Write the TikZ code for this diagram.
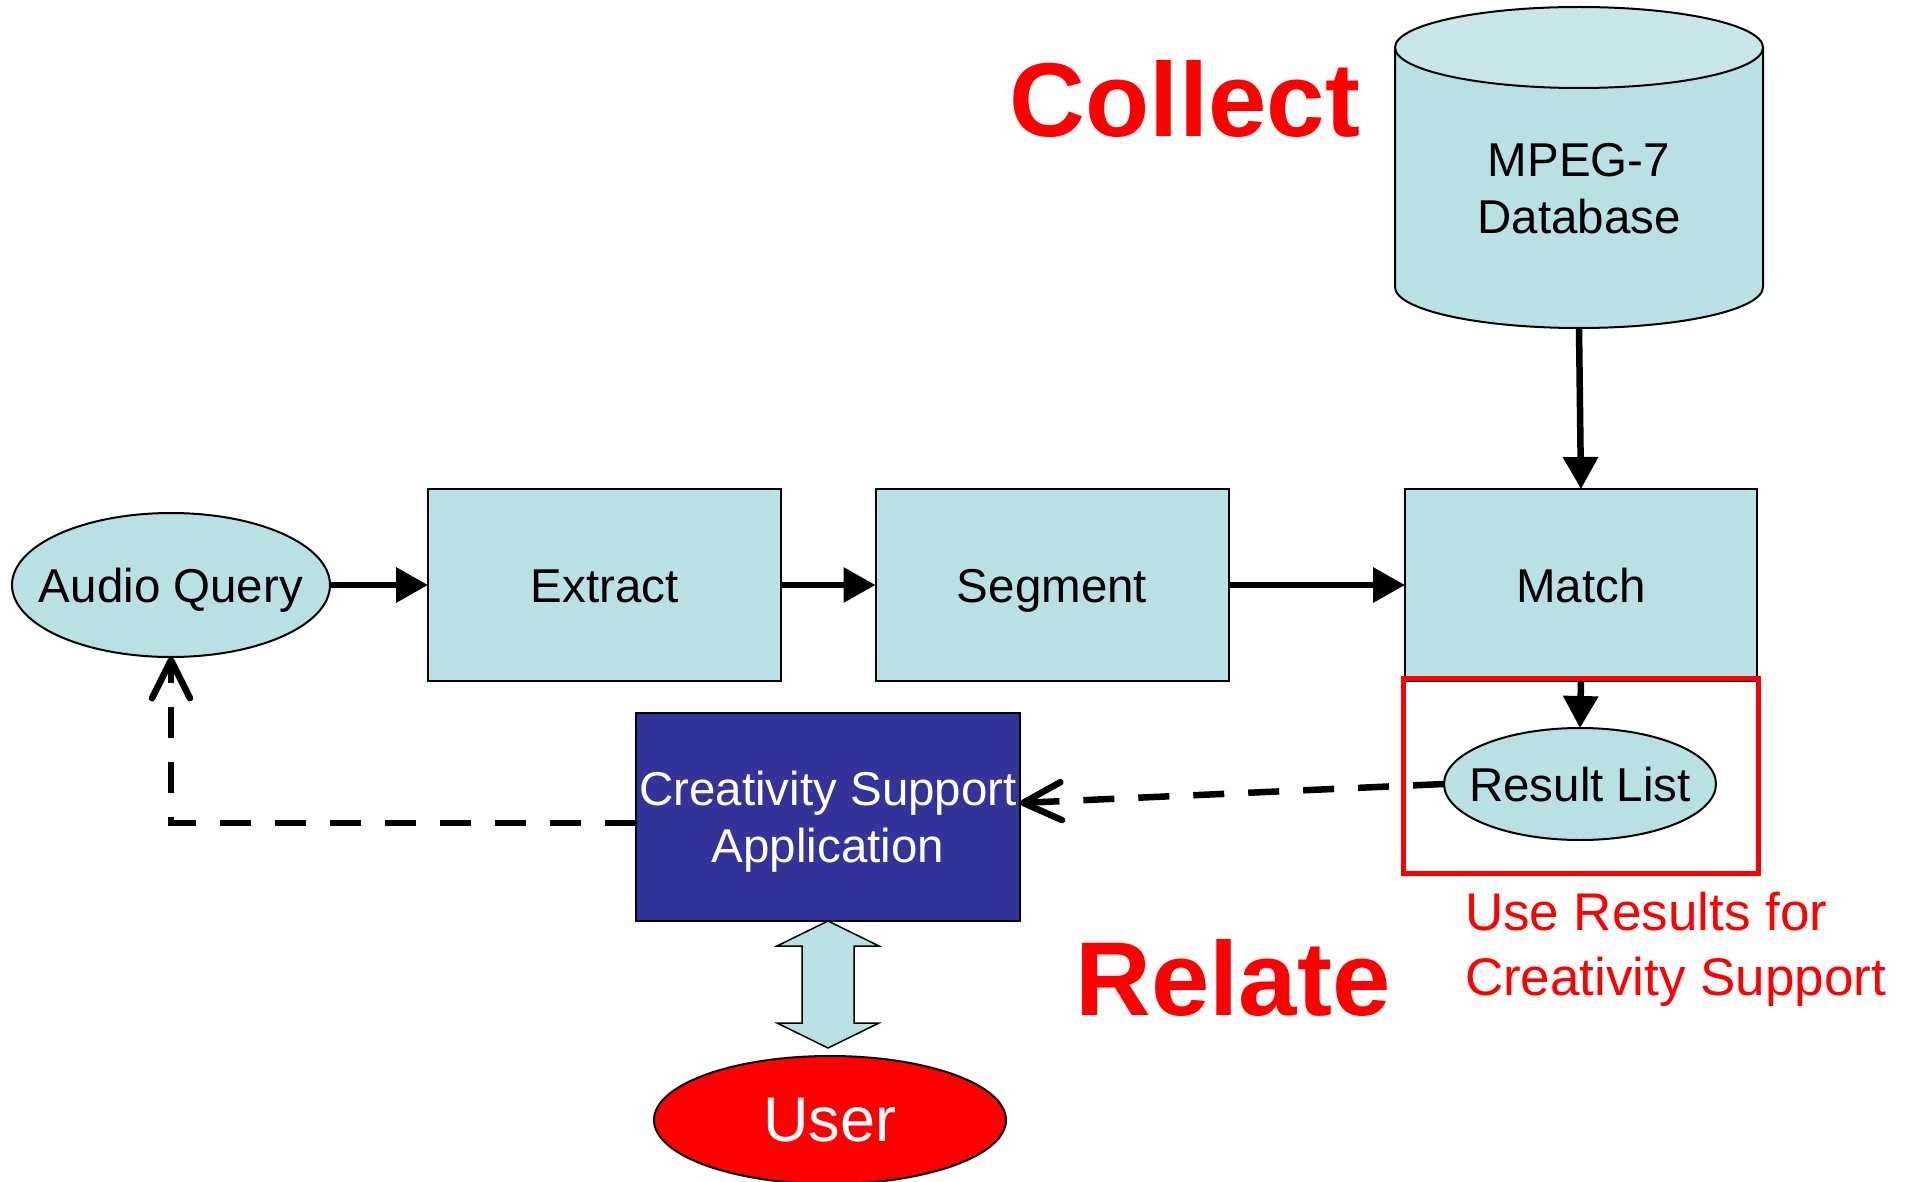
\documentclass[tikz,border=0pt]{standalone}
\usepackage{fontspec}
\setmainfont{Liberation Sans}
\usetikzlibrary{arrows.meta,shapes.geometric,calc}
\definecolor{paleblue}{RGB}{185,224,227}
\definecolor{paletop}{RGB}{200,230,232}
\definecolor{appblue}{RGB}{51,51,153}
\definecolor{alertred}{RGB}{255,0,0}
\begin{document}
\begin{tikzpicture}[x=1pt,y=1pt,
  every node/.style={inner sep=0pt, outer sep=0pt},
  lbl/.style={font=\fontsize{47.5}{57}\selectfont, align=center},
  oneline/.style={lbl, text height=34pt, text depth=0pt},
  stage/.style={draw=black, line width=2pt, fill=paleblue, minimum width=353pt, minimum height=192pt, oneline},
  oval/.style={ellipse, draw=black, line width=2pt, fill=paleblue},
  flow/.style={line width=6.5pt, -{Triangle[length=32pt,width=34pt]}},
  back/.style={line width=6.5pt, dash pattern=on 31pt off 24pt,
    -{Straight Barb[length=38pt,width=38pt,line cap=round,line join=round]}},
  bigword/.style={font=\bfseries\fontsize{105}{126}\selectfont, text=alertred, anchor=base},
]
\useasboundingbox (0,0) rectangle (1907,-1182);

% database cylinder
\fill[paleblue] (1395,-47.5) -- (1395,-287)
  arc[start angle=180,end angle=360,x radius=184pt,y radius=41pt] -- (1763,-47.5) -- cycle;
\draw[line width=2pt] (1395,-47.5) -- (1395,-287)
  arc[start angle=180,end angle=360,x radius=184pt,y radius=41pt] -- (1763,-47.5);
\filldraw[fill=paletop, line width=2pt] (1579,-47.5) ellipse[x radius=184pt, y radius=40.5pt];
\node[lbl] (dbtext) at (1579,-188.5) {MPEG-7\\Database};
\coordinate (dbbase) at (1579,-328);

% processing chain
\node[oval, minimum width=318pt, minimum height=144pt,
  label={[oneline]center:Audio Query}] (aq) at (171,-585) {};
\node[stage] (extract) at (604.5,-585) {Extract};
\node[stage] (segment) at (1052,-585) {Segment};
\node[stage, minimum width=352pt] (match) at (1581,-585) {Match};
\node[oval, minimum width=272pt, minimum height=112pt,
  label={[oneline]center:Result List}] (rl) at (1580,-784) {};

\draw[flow] (aq.east) -- (extract.west);
\draw[flow] (extract.east) -- (segment.west);
\draw[flow] (segment.east) -- (match.west);
\draw[flow] (dbbase) -- (match.north);
\draw[flow] (match.south) -- (rl.north);

\node[draw=alertred, line width=5pt, minimum width=355pt, minimum height=195pt] (focus) at (1580.5,-775.5) {};

% application and user
\node[fill=appblue, draw=black, line width=2pt, minimum width=384pt, minimum height=208pt,
  label={[lbl, text=white, yshift=-5pt]center:Creativity Support\\Application}] (csa) at (828,-817) {};
\node[ellipse, fill=alertred, draw=black, line width=2pt, minimum width=352pt, minimum height=128pt,
  text=white, font=\fontsize{63}{75}\selectfont] (user) at (830,-1120) {User};

\draw[fill=paleblue, draw=black, line width=1.5pt, line join=miter]
  (csa.south) -- ++(51,-25) -- ++(-25,0) -- ++(0,-77) -- ++(25,0) -- ++(-51,-25)
  -- ++(-51,25) -- ++(25,0) -- ++(0,77) -- ++(-25,0) -- cycle;

% feedback paths
\draw[back] (rl.west) -- ($(csa.east)+(0,14)$);
\draw[back] ($(csa.west)+(0,-6)$) -| (aq.south);

% labels
\node[bigword] (collect) at (1185,-137) {Collect};
\node[bigword] (relate) at (1233,-1015) {Relate};
\node[font=\fontsize{53}{65}\selectfont, text=alertred, align=left, anchor=base west] (use)
  at (1465,-995) {Use Results for\\Creativity Support};
\end{tikzpicture}
\end{document}
